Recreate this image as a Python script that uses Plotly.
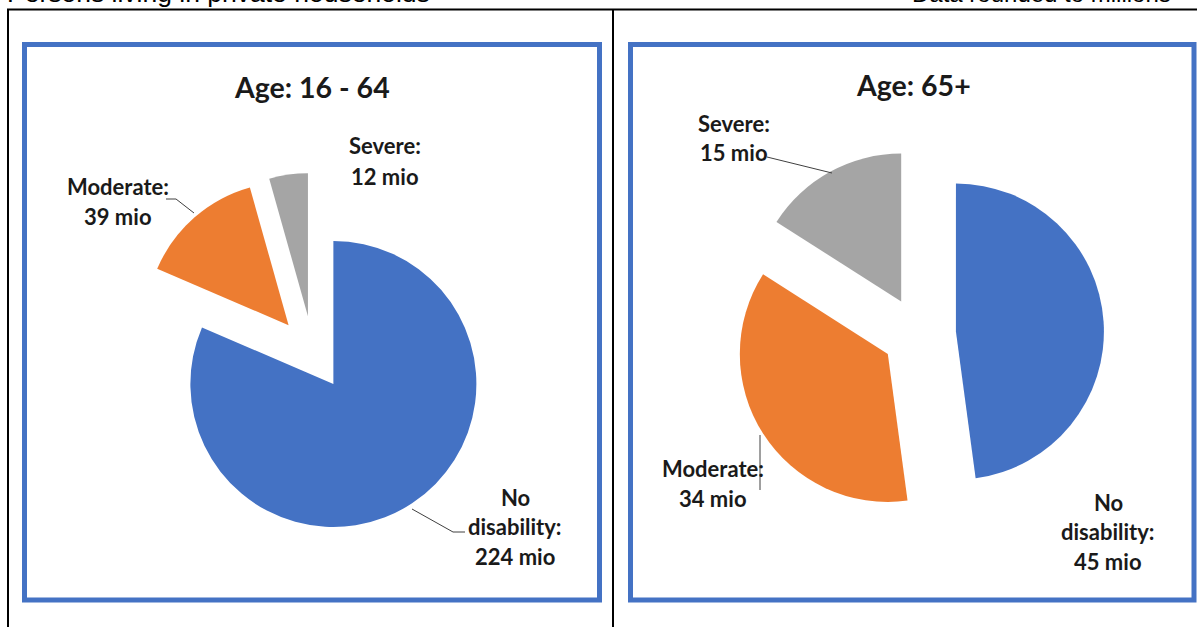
import plotly.graph_objects as go

W, H = 1197, 627

# Data (millions of persons)
categories = ["No disability", "Moderate", "Severe"]
values_16_64 = [224, 39, 12]
values_65_plus = [45, 34, 15]
slice_colors = ["#4472C4", "#ED7D31", "#A5A5A5"]
panel_titles = ["Age: 16 - 64", "Age: 65+"]
header_left = "Persons living in private households"
header_right = "Data rounded to millions"
unit = "mio"


def px(x):
    return x / W


def py(y):
    return 1 - y / H


def pie_trace(values, cx, cy, r, pull):
    half = r * (1 + pull)
    return go.Pie(
        labels=categories,
        values=values,
        sort=False,
        direction="clockwise",
        rotation=0,
        pull=[pull] * len(values),
        marker=dict(colors=slice_colors, line=dict(width=0)),
        textinfo="none",
        hoverinfo="label+value",
        showlegend=False,
        domain=dict(x=[px(cx - half), px(cx + half)],
                    y=[py(cy + half), py(cy - half)]),
    )


fig = go.Figure()
fig.add_trace(pie_trace(values_16_64, 313, 353, 143, 0.259))
fig.add_trace(pie_trace(values_65_plus, 919, 334, 148, 0.25))

label_font = dict(family="Lato", size=22, color="#1a1a1a", weight="bold")
title_font = dict(family="Lato", size=28.5, color="#1a1a1a", weight="bold")
header_font_left = dict(family="Liberation Sans, Arial", size=26.5, color="#000000")
header_font_right = dict(family="Liberation Sans, Arial", size=24, color="#000000")

annotations = []


def text_at(x, y, s, font, xanchor="center", yanchor="middle"):
    annotations.append(dict(x=px(x), y=py(y), xref="paper", yref="paper",
                            text=s, showarrow=False, font=font,
                            xanchor=xanchor, yanchor=yanchor))


def label_lines(cat, val):
    name = cat + ":"
    parts = name.split(" ", 1) if " " in name else [name]
    return parts + [f"{val} {unit}"]


# label centre x, first-line y, line step for each slice
label_pos_left = [(515, 497, 29.5), (118, 186, 30), (385, 146, 30)]
label_pos_right = [(1108, 502, 29.5), (713, 468, 30), (734, 123, 29.5)]

for vals, positions in ((values_16_64, label_pos_left), (values_65_plus, label_pos_right)):
    for cat, v, (lx, ly, step) in zip(categories, vals, positions):
        for k, line in enumerate(label_lines(cat, v)):
            text_at(lx, ly + k * step, line, label_font)

text_at(312, 87, panel_titles[0], title_font)
text_at(913, 85, panel_titles[1], title_font)

# header row, partly above the top of the page
text_at(5, -7, header_left, header_font_left, xanchor="left")
text_at(1173, -6, header_right, header_font_right, xanchor="right")

shapes = []


def line(x0, y0, x1, y1, color="black", width=2):
    shapes.append(dict(type="line", xref="paper", yref="paper",
                       x0=px(x0), y0=py(y0), x1=px(x1), y1=py(y1),
                       line=dict(color=color, width=width)))


def polyline(pts, color="#404040", width=1):
    d = "M " + " L ".join(f"{px(x)},{py(y)}" for x, y in pts)
    shapes.append(dict(type="path", xref="paper", yref="paper", path=d,
                       line=dict(color=color, width=width)))


def rect(x0, y0, x1, y1, color="#4472C4", width=5):
    shapes.append(dict(type="rect", xref="paper", yref="paper",
                       x0=px(x0), y0=py(y0), x1=px(x1), y1=py(y1),
                       line=dict(color=color, width=width), layer="below"))


# table grid
line(7, 9.5, 1197, 9.5)
line(8, 9.5, 8, 627)
line(613, 9.5, 613, 627)

# chart frames
rect(24.5, 44.5, 599.5, 600)
rect(630.5, 44.5, 1194, 600)

# leader lines
polyline([(166, 199), (176, 199), (194, 213)])
polyline([(412, 509), (453, 532), (465, 532)])
polyline([(767, 157), (832, 173)])
polyline([(760, 435), (760, 490)])

fig.update_layout(
    width=W, height=H, autosize=False,
    margin=dict(l=0, r=0, t=0, b=0),
    paper_bgcolor="white", plot_bgcolor="white",
    annotations=annotations, shapes=shapes,
)

fig.write_html("out.html")
